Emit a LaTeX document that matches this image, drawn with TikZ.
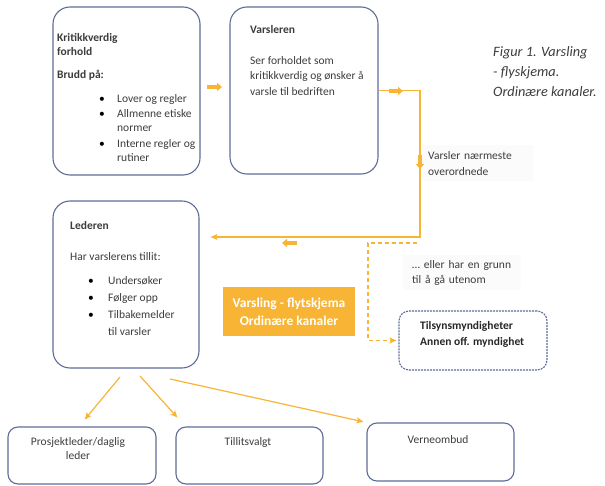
\documentclass[tikz,border=0pt]{standalone}
\usepackage{fontspec}
\setmainfont{Carlito}
\usetikzlibrary{arrows.meta}

\definecolor{flow}{RGB}{248,180,52}
\definecolor{frame}{RGB}{96,108,152}
\definecolor{ink}{RGB}{60,60,60}
\newcommand\bul[1]{\makebox[#1][l]{\textcolor{black}{\textbullet}}}

\begin{document}
\begin{tikzpicture}[x=1pt, y=-1pt,
  box/.style={draw=frame, line width=1.1pt, rounded corners=17pt, inner sep=0pt},
  smallbox/.style={box, rounded corners=10pt},
  txt/.style={inner sep=0pt, text=ink, align=left, font=\fontsize{11.5}{14.5}\selectfont},
  note/.style={txt, fill=black!1.5, inner xsep=6pt, inner ysep=6pt, anchor=north west},
  link/.style={draw=flow, line width=1.2pt, -{Stealth[length=7pt, width=6pt, inset=1.5pt]}},
  dlink/.style={link, dash pattern=on 4pt off 3pt},
  nudge/.style={draw=flow, line width=4.5pt, -{Triangle[length=5pt, width=8pt]}}]
  \useasboundingbox (0,0) rectangle (605,486);
  % boxes
  \node[box, minimum width=147pt, minimum height=168pt] (kritikk) at (126.5,91) {};
  \node[box, minimum width=148pt, minimum height=167pt] (varsler) at (304,90.5) {};
  \node[box, minimum width=146pt, minimum height=167pt] (leder) at (126,284.5) {};
  \node[smallbox, dash pattern=on 2pt off 1pt, minimum width=148pt, minimum height=59pt] (tilsyn) at (473,340.5) {};
  \node[smallbox, minimum width=148pt, minimum height=57pt] (prosjekt) at (82,455.5) {};
  \node[smallbox, minimum width=147pt, minimum height=57pt] (tillit) at (249.5,455.5) {};
  \node[smallbox, minimum width=147pt, minimum height=58pt] (verne) at (440.5,452) {};
  % box texts
  \node[txt, anchor=north west] (kritikktxt) at (57,33)
    {\textbf{Kritikkverdig}\\[-0.5pt]\textbf{forhold}\\[8.5pt]\textbf{Brudd på:}\\[10pt]
     \hspace*{42pt}\bul{18pt}Lover og regler\\
     \hspace*{42pt}\bul{18pt}Allmenne etiske\\
     \hspace*{60pt}normer\\[1.5pt]
     \hspace*{42pt}\bul{18pt}Interne regler og\\[-1pt]
     \hspace*{60pt}rutiner};
  \node[txt, anchor=north west, font=\fontsize{11.5}{15.5}\selectfont] (varslertxt) at (250,25)
    {\textbf{Varsleren}\\[15.5pt]Ser forholdet som\\kritikkverdig og ønsker å\\varsle til bedriften};
  \node[txt, anchor=north west, font=\fontsize{11.5}{17}\selectfont] (ledertxt) at (70,221)
    {\textbf{Lederen}\\[14pt]Har varslerens tillit:\\[7pt]
     \hspace*{18pt}\bul{20pt}Undersøker\\
     \hspace*{18pt}\bul{20pt}Følger opp\\
     \hspace*{18pt}\bul{20pt}Tilbakemelder\\
     \hspace*{38pt}til varsler};
  \node[txt, anchor=north west, font=\bfseries\fontsize{11.5}{16}\selectfont, text=black!85] (tilsyntxt) at (420,321)
    {Tilsynsmyndigheter\\Annen off. myndighet};
  \node[txt, anchor=north, align=center] (prosjekttxt) at (78,437) {Prosjektleder/daglig\\leder};
  \node[txt, anchor=north] (tillittxt) at (248,437) {Tillitsvalgt};
  \node[txt, anchor=north] (vernetxt) at (438,435) {Verneombud};
  % notes and titles
  \node[note, text width=99pt, font=\fontsize{11.5}{16}\selectfont] (naermeste) at (422,145)
    {Varsler nærmeste\\overordnede};
  \node[note, inner xsep=9pt, inner ysep=5pt, text width=100pt, font=\fontsize{11.5}{15}\selectfont] (utenom) at (403,255)
    {… eller har en grunn\\til å gå utenom};
  \node[fill=flow, text=white, align=center, font=\bfseries\fontsize{13.5}{18}\selectfont,
        minimum width=132pt, minimum height=49pt] (label) at (289,311.5)
    {Varsling - flytskjema\\Ordinære kanaler};
  \node[txt, anchor=north west, font=\itshape\fontsize{14.3}{20}\selectfont] (caption) at (493,46)
    {Figur 1. Varsling\\- flyskjema.\\Ordinære kanaler.};
  % connectors
  \coordinate (turn1) at (420,90.5);
  \coordinate (turn2) at (420,237);
  \draw[link, shorten >=11pt] (varsler.east) -- (turn1) -- (turn2) -- (turn2 -| leder.east);
  \coordinate (dstart) at (417,243);
  \coordinate (dturn) at (368,243);
  \draw[dlink, shorten >=2pt] (dstart) -- (dturn) -- (dturn |- tilsyn.west) -- (tilsyn.west);
  \coordinate (out1) at (120,377);
  \coordinate (out2) at (140,376);
  \coordinate (out3) at (170,379);
  \draw[link, shorten >=9pt] (out1) -- ([xshift=-3pt]prosjekt.north);
  \draw[link, shorten >=12pt] (out2) -- ([xshift=10pt]tillit.north west);
  \draw[link, shorten >=3pt] (out3) -- (verne.north west);
  % small block arrows
  \foreach \xa/\ya/\xb/\yb in {207/87/222/87, 389/91/403/91, 420/155/420/169, 297/243/282/243}
    \draw[nudge] (\xa,\ya) -- (\xb,\yb);
\end{tikzpicture}
\end{document}
